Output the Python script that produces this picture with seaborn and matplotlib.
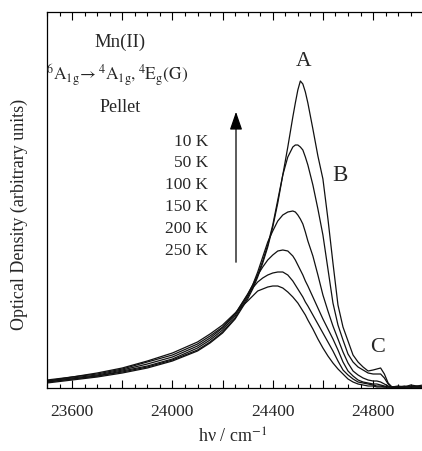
import matplotlib
matplotlib.use("Agg")
import matplotlib.pyplot as plt
from matplotlib.ticker import FixedLocator, MultipleLocator, FuncFormatter
from matplotlib.patches import FancyArrowPatch
import numpy as np
import pandas as pd
import seaborn as sns

# Wavenumbers (cm^-1) at which the spectra are tabulated
wavenumber = [23500, 23600, 23700, 23800, 23900, 24000, 24100, 24150, 24200, 24250,
              24300, 24320, 24340, 24360, 24380, 24400, 24420, 24440, 24460, 24480,
              24490, 24500, 24510, 24520, 24530, 24540, 24560, 24580, 24600, 24620,
              24640, 24660, 24680, 24700, 24720, 24740, 24760, 24780, 24800, 24815,
              24830, 24845, 24860, 24875, 24900, 24925, 24950, 24975, 25000]

# Optical density (arbitrary units) for each temperature
od_10K = [0.04, 0.07, 0.10, 0.14, 0.19, 0.26, 0.36, 0.44, 0.54, 0.68,
          0.88, 0.98, 1.10, 1.24, 1.40, 1.60, 1.84, 2.12, 2.40, 2.70,
          2.84, 2.97, 3.06, 3.03, 2.95, 2.84, 2.58, 2.31, 2.08, 1.68,
          1.24, 0.82, 0.60, 0.46, 0.32, 0.25, 0.20, 0.16, 0.17, 0.18,
          0.19, 0.13, 0.04, 0.00, 0.01, 0.00, 0.02, 0.01, 0.02]
od_50K = [0.05, 0.08, 0.11, 0.15, 0.20, 0.27, 0.37, 0.45, 0.55, 0.69,
          0.90, 1.00, 1.12, 1.26, 1.42, 1.62, 1.87, 2.12, 2.30, 2.40,
          2.42, 2.42, 2.40, 2.37, 2.30, 2.22, 2.02, 1.78, 1.52, 1.18,
          0.84, 0.62, 0.47, 0.33, 0.25, 0.20, 0.17, 0.14, 0.13, 0.13,
          0.13, 0.09, 0.03, 0.00, 0.00, 0.01, 0.00, 0.01, 0.00]
od_100K = [0.05, 0.08, 0.11, 0.16, 0.21, 0.28, 0.39, 0.47, 0.57, 0.71,
           0.92, 1.02, 1.15, 1.30, 1.45, 1.56, 1.66, 1.72, 1.75, 1.76,
           1.75, 1.72, 1.68, 1.63, 1.55, 1.46, 1.31, 1.12, 0.92, 0.76,
           0.61, 0.48, 0.35, 0.24, 0.16, 0.12, 0.09, 0.07, 0.06, 0.06,
           0.05, 0.03, 0.01, 0.00, 0.00, 0.00, 0.01, 0.00, 0.00]
od_150K = [0.06, 0.09, 0.12, 0.17, 0.23, 0.30, 0.41, 0.49, 0.59, 0.73,
           0.93, 1.02, 1.12, 1.20, 1.27, 1.32, 1.36, 1.37, 1.36, 1.31,
           1.27, 1.22, 1.17, 1.12, 1.06, 1.01, 0.90, 0.79, 0.68, 0.58,
           0.48, 0.37, 0.25, 0.16, 0.11, 0.07, 0.05, 0.04, 0.03, 0.03,
           0.02, 0.01, 0.00, 0.00, 0.00, 0.00, 0.00, 0.00, 0.00]
od_200K = [0.06, 0.10, 0.13, 0.18, 0.25, 0.32, 0.43, 0.51, 0.60, 0.73,
           0.92, 0.99, 1.05, 1.09, 1.12, 1.14, 1.15, 1.15, 1.12, 1.06,
           1.02, 0.98, 0.94, 0.90, 0.85, 0.81, 0.72, 0.63, 0.54, 0.45,
           0.36, 0.26, 0.17, 0.12, 0.08, 0.05, 0.04, 0.03, 0.02, 0.01,
           0.01, 0.00, 0.00, 0.00, 0.00, 0.00, 0.00, 0.00, 0.00]
od_250K = [0.07, 0.10, 0.14, 0.19, 0.26, 0.34, 0.45, 0.53, 0.62, 0.74,
           0.86, 0.91, 0.96, 0.98, 1.00, 1.01, 1.01, 0.99, 0.95, 0.90,
           0.87, 0.84, 0.80, 0.76, 0.72, 0.67, 0.58, 0.48, 0.39, 0.31,
           0.24, 0.18, 0.13, 0.08, 0.05, 0.03, 0.02, 0.01, 0.01, 0.00,
           0.00, 0.00, 0.00, 0.00, 0.00, 0.00, 0.00, 0.00, 0.00]

temperatures = ["10 K", "50 K", "100 K", "150 K", "200 K", "250 K"]
series = [od_10K, od_50K, od_100K, od_150K, od_200K, od_250K]

df = pd.concat(
    [pd.DataFrame({"wavenumber": wavenumber, "od": s, "T": t})
     for t, s in zip(temperatures, series)],
    ignore_index=True,
)

sns.set_style("ticks")
plt.rcParams["font.family"] = ["Liberation Serif", "DejaVu Serif"]
plt.rcParams["mathtext.fontset"] = "stix"

W, H = 422, 452
fig = plt.figure(figsize=(W / 100, H / 100), dpi=100)
L, R, T, B = 47, 422, 13, 389
ax = fig.add_axes([L / W, 1 - B / H, (R - L) / W, (B - T) / H])


def fx(px):
    return px / W


def fy(py):
    return 1 - py / H


sns.lineplot(data=df, x="wavenumber", y="od", hue="T",
             palette=["#111111"] * 6, legend=False, linewidth=0.9,
             sort=False, ax=ax)

ax.set_xlim(23500, 24995)
ax.set_ylim(-0.01, 3.75)

# Ticks: long every 200, labelled every 400, minor every 50, all pointing inward
ax.xaxis.set_major_locator(FixedLocator(np.arange(23600, 25000, 200)))
ax.xaxis.set_minor_locator(MultipleLocator(50))
ax.xaxis.set_major_formatter(FuncFormatter(lambda v, p: f"{int(round(v))}" if round(v) % 400 == 0 else ""))
ax.tick_params(axis="x", which="both", direction="in", top=True, bottom=True,
               labelsize=12.5, pad=11, color="black", width=0.8)
ax.tick_params(axis="x", which="major", length=6)
ax.tick_params(axis="x", which="minor", length=3)
ax.set_yticks([])
for side in ["left", "bottom", "top"]:
    ax.spines[side].set_linewidth(0.9)
    ax.spines[side].set_color("black")
ax.spines["right"].set_visible(False)

ax.set_xlabel("h\u03bd / cm$^{-1}$", fontsize=13)
ax.xaxis.set_label_coords((233 - L) / (R - L), (B - 428) / (B - T))
ax.set_ylabel("Optical Density (arbitrary units)", fontsize=13)
ax.yaxis.set_label_coords((28 - L) / (R - L), (B - 214.5) / (B - T))

# Annotations inside the frame
fig.text(fx(120), fy(42), "Mn(II)", fontsize=13.5, ha="center", va="center")
fig.text(fx(117.5), fy(75),
         r"$^{6}\mathrm{A}_{\mathrm{1g}}\!\rightarrow{}^{4}\mathrm{A}_{\mathrm{1g}},{}^{4}\mathrm{E}_{\mathrm{g}}\mathrm{(G)}$",
         fontsize=12.5, ha="center", va="center")
fig.text(fx(120), fy(107), "Pellet", fontsize=13, ha="center", va="center")

for i, t in enumerate(temperatures):
    fig.text(fx(208), fy(141.5 + 21.9 * i), t, fontsize=12.5, ha="right", va="center")

arrow = FancyArrowPatch((fx(236), fy(266)), (fx(236), fy(110)),
                        transform=fig.transFigure,
                        arrowstyle="-|>,head_length=1.1,head_width=0.38",
                        mutation_scale=10, color="black", linewidth=0.9)
fig.patches.append(arrow)

fig.text(fx(304), fy(62), "A", fontsize=15.5, ha="center", va="center")
fig.text(fx(340), fy(176), "B", fontsize=16.5, ha="center", va="center")
fig.text(fx(378), fy(347), "C", fontsize=16, ha="center", va="center")

fig.savefig("out.png", dpi=100)
